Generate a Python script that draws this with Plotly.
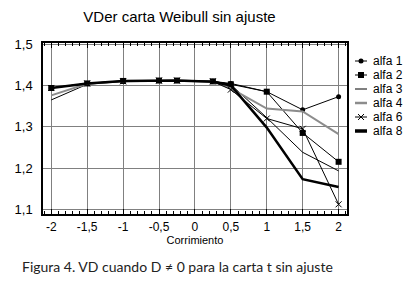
import plotly.graph_objects as go

# Data
corrimiento = [-2, -1.5, -1, -0.5, -0.25, 0.25, 0.5, 1, 1.5, 2]
alfa1 = [1.394, 1.405, 1.411, 1.412, 1.412, 1.410, 1.405, 1.385, 1.341, 1.373]
alfa2 = [1.394, 1.405, 1.411, 1.412, 1.412, 1.410, 1.403, 1.385, 1.285, 1.215]
alfa3 = [1.365, 1.403, 1.410, 1.412, 1.412, 1.410, 1.402, 1.322, 1.238, 1.193]
alfa4 = [1.376, 1.404, 1.410, 1.412, 1.412, 1.409, 1.393, 1.344, 1.337, 1.282]
alfa6 = [1.394, 1.405, 1.410, 1.412, 1.412, 1.410, 1.390, 1.320, 1.295, 1.112]
alfa8 = [1.394, 1.405, 1.411, 1.412, 1.412, 1.409, 1.400, 1.298, 1.173, 1.154]

series_names = ["alfa 1", "alfa 2", "alfa 3", "alfa 4", "alfa 6", "alfa 8"]
x_tickvals = [-2, -1.5, -1, -0.5, 0, 0.5, 1, 1.5, 2]
x_ticktext = ["-2", "-1,5", "-1", "-0,5", "0", "0,5", "1", "1,5", "2"]
title_text = "VDer carta Weibull sin ajuste"
x_title = "Corrimiento"
caption = "Figura 4. VD cuando D \u2260 0 para la carta t sin ajuste"

FONT = "Liberation Sans, Arial, sans-serif"

W, H = 417, 286
ML, MR, MT, MB = 43, 5, 43, 72
PW = W - ML - MR
PH = H - MT - MB
PLOT_RIGHT = 347  # px right edge of main plot area

styles = [
    dict(line=dict(color="black", width=1), mode="lines+markers",
         marker=dict(symbol="circle", size=5, color="black")),
    dict(line=dict(color="black", width=1), mode="lines+markers",
         marker=dict(symbol="square", size=6, color="black")),
    dict(line=dict(color="black", width=1), mode="lines"),
    dict(line=dict(color="#8c8c8c", width=2), mode="lines"),
    dict(line=dict(color="black", width=1), mode="lines+markers",
         marker=dict(symbol="x-thin", size=6, color="black",
                     line=dict(color="black", width=1))),
    dict(line=dict(color="black", width=2.5), mode="lines"),
]
legend_line_width = [1, 1, 1, 2.5, 1, 3.5]

fig = go.Figure()
for name, ys, st in zip(series_names, [alfa1, alfa2, alfa3, alfa4, alfa6, alfa8], styles):
    fig.add_trace(go.Scatter(x=corrimiento, y=ys, name=name, showlegend=False, **st))

# Hand-built legend on an overlay axis measured in pixels
leg_x0, leg_x1, leg_text_x = 355, 367, 371
leg_rows = [61 + 14 * i for i in range(len(series_names))]
for name, st, lw, ry in zip(series_names, styles, legend_line_width, leg_rows):
    fig.add_trace(go.Scatter(x=[leg_x0, leg_x1], y=[ry, ry], mode="lines",
                             line=dict(color=st["line"]["color"], width=lw),
                             xaxis="x2", yaxis="y2", showlegend=False, hoverinfo="skip"))
    if "marker" in st:
        fig.add_trace(go.Scatter(x=[(leg_x0 + leg_x1) / 2], y=[ry], mode="markers",
                                 marker=st["marker"], xaxis="x2", yaxis="y2",
                                 showlegend=False, hoverinfo="skip"))
    fig.add_annotation(text=name, x=leg_text_x, y=ry, xref="x2", yref="y2",
                       xanchor="left", yanchor="middle", showarrow=False,
                       font=dict(family=FONT, size=12, color="black"))

fig.update_layout(
    width=W, height=H,
    margin=dict(l=ML, r=MR, t=MT, b=MB, autoexpand=False),
    paper_bgcolor="white", plot_bgcolor="white",
    separators=",.",
    font=dict(family=FONT, size=12, color="black"),
    title=dict(text=title_text, xref="container", x=179.5 / W, xanchor="center",
               yref="container", y=1 - 17 / H, yanchor="middle",
               font=dict(family=FONT, size=15, color="black")),
    showlegend=False,
    xaxis2=dict(domain=[(PLOT_RIGHT + 3 - ML) / PW, 1], range=[PLOT_RIGHT + 3, W - MR],
                visible=False, fixedrange=True),
    yaxis2=dict(domain=[0, 1], range=[MT + PH, MT], visible=False, anchor="x2",
                fixedrange=True),
)
fig.update_layout(xaxis=dict(
    domain=[0, (PLOT_RIGHT - ML) / PW],
    range=[-2.115, 2.117], tickvals=x_tickvals, ticktext=x_ticktext,
    showgrid=True, gridcolor="#808080",
    gridwidth=1, zeroline=False, showline=True, linecolor="black", linewidth=1.5,
    mirror="ticks", ticks="inside", ticklen=5, tickcolor="black",
    minor=dict(dtick=0.1, tick0=0, ticks="inside", ticklen=3, tickcolor="black",
               showgrid=False),
    title=dict(text=x_title, standoff=3, font=dict(family=FONT, size=11)),
    tickfont=dict(family=FONT, size=12), ticklabelstandoff=1,
))
fig.update_layout(yaxis=dict(
    range=[1.0885, 1.503], tick0=1.1, dtick=0.1, tickformat=".1f", showgrid=True,
    gridcolor="#808080", gridwidth=1, zeroline=False, showline=True, linecolor="black",
    linewidth=1.5, mirror=True, ticks="", tickfont=dict(family=FONT, size=13),
    ticklabelstandoff=6,
))
fig.add_annotation(text=caption, xref="paper", yref="paper", x=(20 - ML) / PW,
                   y=-(266 - (MT + PH)) / PH, xanchor="left", yanchor="middle",
                   showarrow=False,
                   font=dict(family="Lato, Open Sans, sans-serif", size=14, color="#222"))
fig.write_html("out.html", config={"displayModeBar": False},
               post_script="document.body.style.margin='0px';")
